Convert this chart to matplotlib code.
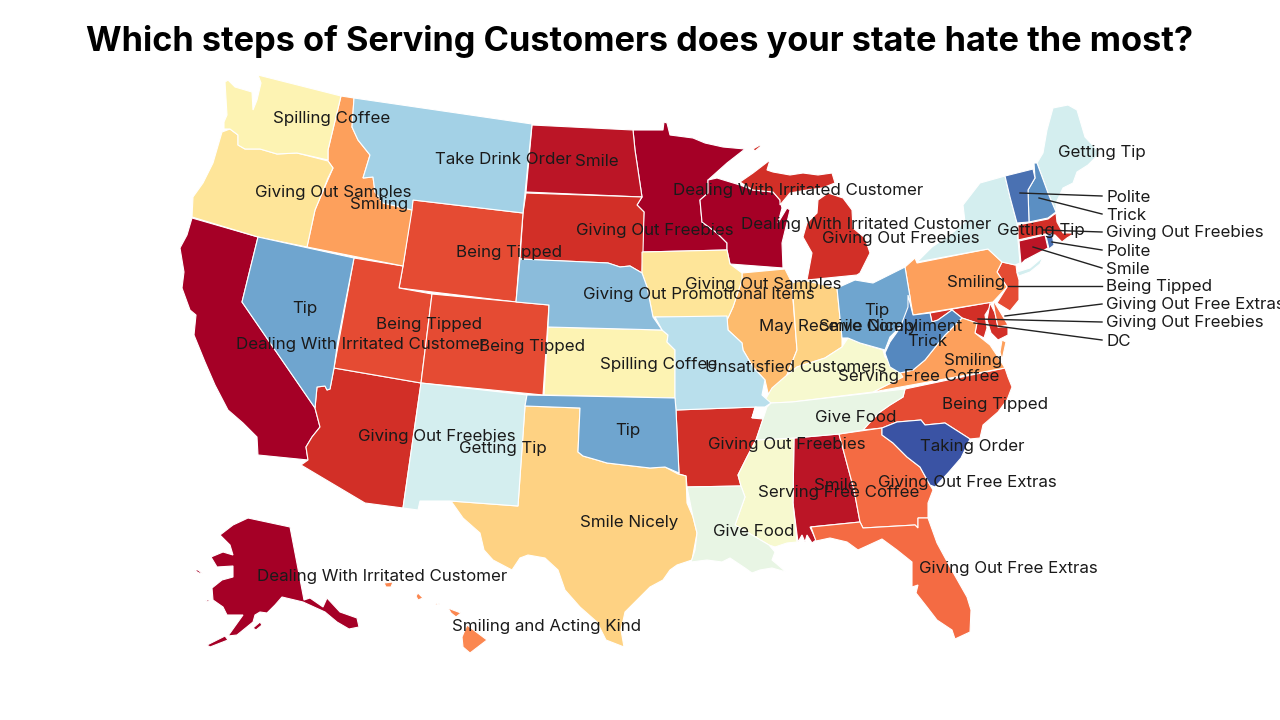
import matplotlib.pyplot as plt
from matplotlib.patches import Polygon

# Outlines, in image pixels
WA = [(258,75),(341,96),(328,150),(328,160),(297,153),(277,154),(260,149),(245,149),(238,145),(238,135),(230,129),(224,129),(224,122),(227,115),(225,82),(228,80),(235,87),(252,92),(253,110),(257,100),(261,83)]
OR = [(222,132),(230,129),(238,135),(238,145),(245,149),(260,149),(277,154),(297,153),(328,161),(333,168),(328,178),(320,198),(315,210),(307,247),(258,237),(192,217),(193,197),(203,183),(213,163)]
CA = [(192,218),(258,237),(242,302),(315,408),(320,427),(312,437),(306,447),(308,460),(258,455),(257,437),(243,423),(228,410),(215,385),(205,362),(194,335),(196,315),(190,310),(182,288),(184,272),(180,248),(187,235)]
NV = [(258,237),(354,258),(338,340),(334,368),(330,389),(327,390),(325,386),(317,387),(315,408),(242,302)]
ID = [(341,96),(354,98),(352,127),(358,140),(370,155),(363,178),(373,177),(375,192),(383,203),(412,210),(403,266),(307,247),(315,210),(320,198),(333,168),(328,161),(328,150)]
MT = [(354,98),(532,124),(523,213),(413,200),(412,210),(383,203),(375,192),(373,177),(363,178),(370,155),(358,140),(352,127)]
WY = [(413,200),(523,213),(516,302),(399,288),(403,266)]
UT = [(354,258),(403,266),(399,288),(432,294),(421,383),(334,368)]
CO = [(432,294),(549,305),(543,395),(421,383)]
AZ = [(334,368),(421,383),(403,508),(365,503),(301,465),(308,460),(306,447),(312,437),(320,427),(315,408),(317,387),(325,386),(327,390),(330,389)]
NM = [(421,383),(527,395),(525,406),(518,506),(450,501),(420,501),(418,510),(403,508)]
TX = [(525,406),(580,408),(578,452),(583,456),(597,460),(607,463),(650,468),(665,467),(678,474),(686,476),(687,503),(693,517),(697,533),(692,560),(677,565),(670,570),(663,580),(650,587),(640,597),(625,612),(621,630),(624,647),(606,640),(597,622),(580,607),(565,590),(558,570),(545,558),(528,555),(520,558),(512,570),(493,560),(484,550),(480,533),(463,518),(451,501),(518,506)]
ND = [(532,125),(633,130),(635,150),(642,197),(526,192)]
SD = [(526,193),(642,197),(637,205),(644,212),(643,252),(642,273),(630,266),(620,267),(608,263),(520,259),(523,213)]
NE = [(520,259),(608,263),(620,267),(630,266),(642,273),(647,287),(653,317),(662,330),(548,327),(549,305),(516,302)]
KS = [(548,327),(662,330),(668,335),(667,342),(675,350),(675,398),(544,395)]
OK = [(527,395),(675,398),(676,410),(679,473),(665,467),(650,468),(607,463),(597,460),(583,456),(578,452),(580,408),(525,406)]
MN = [(633,130),(663,130),(664,122),(667,123),(670,135),(693,138),(705,143),(723,147),(745,149),(727,163),(708,180),(708,193),(700,200),(702,222),(717,233),(727,243),(727,250),(642,252),(644,212),(637,205),(642,197),(635,150)]
IA = [(642,252),(727,250),(730,264),(742,273),(742,280),(733,307),(728,318),(653,317),(647,287),(642,273)]
MO = [(655,317),(727,316),(728,330),(742,343),(743,350),(753,367),(765,380),(762,395),(771,403),(765,407),(756,407),(752,418),(756,407),(676,410),(675,398),(675,350),(667,342),(668,335),(662,330)]
AR = [(676,410),(755,407),(752,418),(763,419),(756,440),(747,457),(738,475),(741,486),(687,487),(686,476),(679,474)]
LA = [(687,487),(741,486),(745,497),(735,525),(769,545),(775,552),(772,560),(778,565),(786,572),(772,568),(760,570),(752,573),(745,568),(730,558),(722,562),(707,560),(691,562),(695,550),(697,533),(693,517)]
MS = [(756,440),(794,438),(793,503),(797,542),(787,543),(775,547),(769,545),(735,525),(745,497),(741,486),(738,475),(747,457)]
AL = [(794,438),(839,434),(854,490),(860,522),(810,527),(816,540),(812,543),(807,535),(805,542),(802,535),(798,542),(793,503)]
TN = [(792,402),(905,389),(903,397),(890,405),(880,412),(872,420),(863,430),(839,434),(794,438),(756,440),(763,419),(767,407),(771,403)]
KY = [(771,403),(765,400),(772,388),(787,375),(797,367),(825,358),(842,347),(848,338),(860,343),(883,350),(885,357),(900,373),(903,377),(893,382),(873,392),(792,402)]
IL = [(742,273),(785,269),(792,283),(793,300),(797,350),(787,375),(788,383),(778,395),(768,393),(765,380),(753,367),(743,350),(742,343),(728,330),(727,320),(733,307),(742,280)]
IN = [(792,283),(800,281),(807,281),(837,288),(842,338),(842,347),(825,358),(797,367),(787,375),(797,350)]
WI = [(708,180),(717,178),(730,182),(740,185),(753,190),(773,192),(780,200),(782,208),(778,223),(787,208),(790,210),(782,243),(783,268),(730,264),(727,250),(727,243),(717,233),(702,222),(700,200),(708,193)]
MI_UP = [(740,182),(753,173),(770,160),(767,170),(773,172),(790,175),(803,173),(818,175),(832,173),(835,183),(822,188),(807,190),(790,193),(780,205),(780,200),(773,192),(753,190)]
MI_LOW = [(807,280),(812,253),(803,237),(807,223),(817,213),(818,200),(828,193),(843,198),(852,210),(853,228),(865,238),(870,253),(860,273),(857,275)]
MI_ISLE = [(753,149),(760,145),(761,146),(755,151)]
OH = [(837,288),(855,280),(873,283),(905,267),(910,297),(908,317),(900,327),(890,337),(885,350),(860,343),(848,338),(842,338)]
WV = [(908,295),(913,315),(930,313),(932,322),(938,320),(952,310),(962,318),(945,335),(933,350),(925,360),(913,370),(900,373),(890,367),(885,353),(890,342),(900,328),(908,307)]
PA = [(905,267),(915,258),(917,263),(988,249),(1002,262),(997,272),(1007,287),(993,302),(913,315)]
NY = [(917,262),(932,247),(950,235),(965,222),(963,205),(980,183),(1005,176),(1010,197),(1017,223),(1018,240),(1020,263),(1015,265),(1002,262),(988,249)]
NY_LI = [(1017,272),(1030,268),(1043,257),(1040,264),(1030,272),(1019,276)]
VT = [(1005,176),(1033,169),(1035,178),(1028,190),(1029,222),(1017,223),(1010,197)]
NH = [(1034,163),(1037,163),(1048,193),(1056,212),(1048,218),(1029,222),(1028,190),(1035,178)]
ME = [(1037,163),(1043,153),(1047,130),(1053,108),(1068,105),(1077,110),(1085,137),(1100,153),(1088,165),(1077,172),(1073,183),(1063,188),(1056,203),(1056,212),(1048,193)]
MA = [(1018,225),(1048,219),(1056,213),(1057,222),(1063,233),(1075,233),(1067,238),(1062,242),(1055,235),(1045,234),(1018,240)]
CT = [(1019,241),(1045,235),(1048,248),(1025,260),(1021,264)]
RI = [(1046,236),(1052,233),(1054,245),(1049,249)]
NJ = [(1002,262),(1016,265),(1017,273),(1019,280),(1019,300),(1010,311),(997,303),(1007,287),(997,272)]
DE = [(993,300),(1002,315),(1008,325),(998,327),(995,313)]
MD_W = [(930,313),(992,302),(990,307),(985,315),(987,328),(984,338),(975,333),(977,323),(962,318),(952,310),(938,320),(932,322)]
MD_E = [(990,303),(995,313),(998,327),(1008,327),(1008,335),(998,340),(991,333),(987,320)]
VA = [(962,318),(977,323),(975,333),(980,337),(990,345),(1000,360),(1005,368),(873,392),(893,382),(900,373),(913,370),(925,360),(933,350),(945,335)]
VA_E = [(1002,340),(1006,342),(1002,360),(1000,352)]
NC = [(905,389),(1005,368),(1008,377),(1012,387),(1007,400),(998,412),(983,425),(980,438),(970,439),(945,423),(925,425),(921,420),(897,422),(882,428),(863,430),(872,420),(880,412),(890,405),(903,397)]
SC = [(882,428),(897,422),(921,420),(925,425),(945,423),(970,439),(961,458),(948,473),(935,487),(930,485),(920,467),(907,457),(893,443),(882,435)]
GA = [(839,434),(882,428),(882,435),(893,443),(907,457),(920,467),(930,485),(933,490),(928,503),(928,518),(918,518),(918,528),(915,525),(863,528),(860,522),(854,490)]
FL = [(811,527),(860,522),(863,528),(915,525),(918,528),(918,518),(928,518),(937,543),(950,567),(967,597),(971,610),(970,632),(955,639),(952,630),(937,620),(927,607),(916,593),(918,585),(912,587),(912,562),(897,550),(882,539),(858,550),(847,542),(830,538),(816,541)]
AK = [(248,518),(290,527),(304,600),(310,598),(323,607),(327,598),(340,612),(357,618),(359,627),(349,629),(337,622),(325,612),(303,602),(282,597),(275,605),(267,613),(260,612),(255,615),(253,622),(237,635),(228,636),(243,615),(227,615),(223,607),(213,600),(212,588),(222,580),(233,577),(233,566),(217,567),(211,557),(223,552),(233,555),(230,545),(220,535),(233,525)]
AK_KODIAK = [(253,628),(260,622),(262,625),(256,630)]
AK_CHAIN = [(207,645),(225,636),(228,640),(210,647)]
AK_NUNIVAK = [(205,600),(210,600),(208,602)]
AK_STLAW = [(194,570),(198,570),(203,574),(199,573)]
HI_BIG = [(467,625),(487,640),(470,653),(463,647),(462,637)]
HI_MAUI = [(448,608),(453,610),(461,613),(456,617),(451,613)]
HI_MOLOKAI = [(435,603),(440,604),(436,605)]
HI_OAHU = [(418,593),(423,598),(418,600),(416,596)]
HI_KAUAI = [(384,583),(393,582),(391,587),(386,587)]

# colour of each state's shape, dark red = most hated
shapes = [
    (CA, '#a50026'), (MN, '#a50026'), (WI, '#a50026'), (AK, '#a50026'), (AK_KODIAK, '#a50026'),
    (AK_CHAIN, '#a50026'), (AK_NUNIVAK, '#a50026'), (AK_STLAW, '#a50026'),
    (ND, '#bb1526'), (AL, '#bb1526'), (CT, '#bb1526'),
    (SD, '#d22f27'), (AZ, '#d22f27'), (AR, '#d22f27'), (MI_UP, '#d22f27'), (MI_LOW, '#d22f27'),
    (MI_ISLE, '#d22f27'), (MA, '#d22f27'), (MD_W, '#d22f27'), (MD_E, '#d22f27'),
    (WY, '#e54b33'), (UT, '#e54b33'), (CO, '#e54b33'), (NC, '#e54b33'), (NJ, '#e54b33'),
    (GA, '#f46b43'), (FL, '#f46b43'), (DE, '#f46b43'),
    (HI_BIG, '#fb8750'), (HI_MAUI, '#fb8750'), (HI_MOLOKAI, '#fb8750'), (HI_OAHU, '#fb8750'), (HI_KAUAI, '#fb8750'),
    (ID, '#fda05c'), (PA, '#fda05c'), (VA, '#fda05c'), (VA_E, '#fda05c'),
    (IL, '#fdbb6d'), (TX, '#fed283'), (IN, '#fed283'),
    (OR, '#fee599'), (IA, '#fee599'), (WA, '#fdf3b3'), (KS, '#fdf3b3'),
    (KY, '#f7f9cf'), (MS, '#f7f9cf'), (TN, '#e8f5e4'), (LA, '#e8f5e4'),
    (NM, '#d4eeef'), (NY, '#d4eeef'), (NY_LI, '#d4eeef'), (ME, '#d4eeef'),
    (MO, '#b9dfec'), (MT, '#a3d1e6'), (NE, '#8bbcdb'),
    (NV, '#6fa5cf'), (OK, '#6fa5cf'), (OH, '#6fa5cf'),
    (NH, '#5b8fc3'), (WV, '#5588bf'), (VT, '#4a71b2'), (RI, '#4a71b2'), (SC, '#3a53a4'),
]

map_labels = ['Spilling Coffee', 'Take Drink Order', 'Smile', 'Dealing With Irritated Customer',
              'Giving Out Samples', 'Smiling', 'Giving Out Freebies', 'Dealing With Irritated Customer',
              'Giving Out Freebies', 'Being Tipped', 'Getting Tip', 'Getting Tip', 'Tip', 'Being Tipped',
              'Dealing With Irritated Customer', 'Being Tipped', 'Giving Out Promotional Items',
              'Giving Out Samples', 'Smiling', 'Tip', 'May Receive Compliment', 'Smile Nicely', 'Trick',
              'Smiling', 'Spilling Coffee', 'Unsatisfied Customers', 'Serving Free Coffee', 'Give Food',
              'Being Tipped', 'Tip', 'Giving Out Freebies', 'Getting Tip', 'Giving Out Freebies',
              'Taking Order', 'Smile', 'Serving Free Coffee', 'Giving Out Free Extras', 'Smile Nicely',
              'Give Food', 'Giving Out Free Extras', 'Dealing With Irritated Customer', 'Smiling and Acting Kind']
label_x = [332, 503, 597, 798, 333, 379, 655, 866, 901, 509, 1041, 1102, 305, 429, 361, 532, 699,
           763, 976, 877, 861, 868, 927, 973, 659, 796, 919, 856, 995, 628, 437, 503, 787, 972, 836,
           839, 967, 629, 754, 1008, 382, 547]
label_y = [118, 159, 162, 190, 192, 205, 230, 224, 238, 253, 230, 152, 308, 325, 344, 346, 295,
           284, 282, 310, 327, 327, 341, 361, 365, 368, 377, 417, 405, 431, 437, 448, 445, 447, 486,
           492, 482, 522, 531, 568, 576, 627]

# small northeastern states get a leader line
side_labels = ['Polite', 'Trick', 'Giving Out Freebies', 'Polite', 'Smile', 'Being Tipped',
               'Giving Out Free Extras', 'Giving Out Freebies', 'DC']
side_y = [196, 214, 232, 250, 268, 286, 304, 322, 340]
line_start_x = [1020, 1039, 1043, 1052, 1033, 1008, 1005, 978, 974]
line_start_y = [193, 198, 230, 242, 247, 286, 316, 319, 323]

fig = plt.figure(figsize=(12.8, 7.2), dpi=100)
ax = fig.add_axes([0, 0, 1, 1])
ax.set_xlim(0, 1280)
ax.set_ylim(720, 0)
ax.axis('off')

for outline, color in shapes:
    ax.add_patch(Polygon(outline, closed=True, facecolor=color, edgecolor='white', linewidth=0.8))

for x, y, s in zip(label_x, label_y, map_labels):
    ax.text(x, y, s, ha='center', va='center', fontsize=12.2, family='Inter', color='#1a1a1a')

for x0, y0, y1, s in zip(line_start_x, line_start_y, side_y, side_labels):
    ax.plot([x0, 1102], [y0, y1], color='#222222', linewidth=1)
    ax.text(1106, y1 + 1, s, ha='left', va='center', fontsize=12.2, family='Inter', color='#1a1a1a')

ax.text(640, 41, 'Which steps of Serving Customers does your state hate the most?', ha='center', va='center',
        fontsize=24.7, fontweight='bold', family='Inter', color='black')

fig.savefig('out.png', dpi=100)
